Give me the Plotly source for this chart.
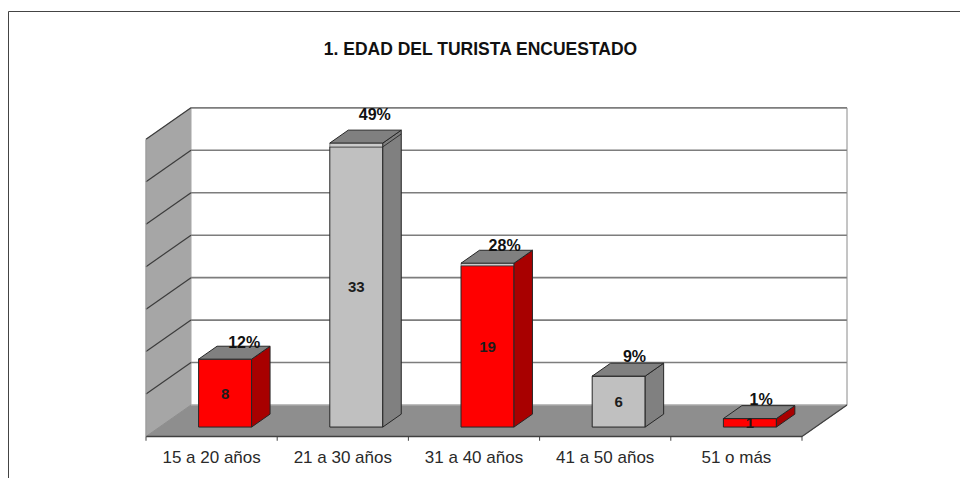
import plotly.graph_objects as go

categories = ["15 a 20 años", "21 a 30 años", "31 a 40 años", "41 a 50 años", "51 o más"]
counts = [8, 33, 19, 6, 1]
percents = [12, 49, 28, 9, 1]
caps = [0, 0.45, 0.3, 0, 0]
front_colors = ["#ff0000", "#c0c0c0", "#ff0000", "#c0c0c0", "#ff0000"]
side_colors = ["#a80000", "#808080", "#a80000", "#808080", "#a80000"]
title_text = "1. EDAD DEL TURISTA ENCUESTADO"

W, H = 960, 478
UX, UY = 131.2, 8.49          # px per category, px per unit
DX, DY = 45 / UX, 31.5 / UY   # floor depth in data units
F0, F1 = 0.30, 0.71           # bar front/back as fraction of the depth
BAR_W = 0.404
YMAX = 35
L, R, T, B = 140, 110, 100, 37
x_range = [-(146 - L) / UX, (W - R - 146) / UX]
y_range = [-(H - B - 436.5) / UY, (436.5 - T) / UY]
label_dx = [0.005, 0.0, -0.01, -0.02, -0.055]
label_dy = [0.25, 1.7, 0.4, 0.65, 0.55]
value_dy = -0.2

n = len(categories)
shapes = []


def poly(xs, ys, fill, line=None, width=1, layer="below"):
    d = "M" + "L".join(f"{x},{y}" for x, y in zip(xs, ys)) + "Z"
    shapes.append(dict(type="path", path=d, xref="x", yref="y", fillcolor=fill, layer=layer,
                       line=dict(color=line or fill, width=width)))


def seg(x0, y0, x1, y1, color, width):
    shapes.append(dict(type="line", x0=x0, y0=y0, x1=x1, y1=y1, xref="x", yref="y", layer="below",
                       line=dict(color=color, width=width)))


# walls and floor
poly([0, DX, DX, 0], [0, DY, DY + YMAX, YMAX], "#a6a6a6")
poly([0, n, n + DX, DX], [0, 0, DY, DY], "#8e8e8e")
for g in range(5, YMAX + 1, 5):
    seg(0, g, DX, DY + g, "#3c3c3c", 1.2)
    seg(DX, DY + g, n + DX, DY + g, "#7d7d7d", 1.6)
seg(DX, DY, n + DX, DY, "#b5b5b5", 1)
seg(n + DX, DY, n + DX, DY + YMAX, "#8a8a8a", 1)
seg(0, 0, n, 0, "#404040", 1.4)
seg(n, 0, n + DX, DY, "#404040", 1.2)
seg(0, 0, 0, YMAX, "#9a9a9a", 1)
for i in range(n + 1):
    seg(i, 0, i, -0.5, "#404040", 1)

fig = go.Figure()
centers = [i + 0.5 + DX * F0 for i in range(n)]
base0 = DY * F0
fig.add_trace(go.Bar(x=centers, y=counts, base=[base0] * n, width=BAR_W,
                     marker=dict(color=front_colors, line=dict(color="#262626", width=1)),
                     showlegend=False, hoverinfo="skip"))
fig.add_trace(go.Bar(x=centers, y=caps, base=[base0 + c for c in counts], width=BAR_W,
                     marker=dict(color="#cccccc", line=dict(color="#404040", width=0.6)),
                     showlegend=False, hoverinfo="skip"))

ddx, ddy = DX * (F1 - F0), DY * (F1 - F0)
for i in range(n):
    xl, xr = centers[i] - BAR_W / 2, centers[i] + BAR_W / 2
    top = base0 + counts[i] + caps[i]
    # side face
    fig.add_trace(go.Scatter(x=[xr, xr + ddx, xr + ddx, xr, xr], y=[base0, base0 + ddy, top + ddy, top, base0],
                             mode="lines", fill="toself", fillcolor=side_colors[i],
                             line=dict(color="#262626", width=1), showlegend=False, hoverinfo="skip"))
    # top face
    fig.add_trace(go.Scatter(x=[xl, xr, xr + ddx, xl + ddx, xl], y=[top, top, top + ddy, top + ddy, top],
                             mode="lines", fill="toself", fillcolor="#808080",
                             line=dict(color="#262626", width=1), showlegend=False, hoverinfo="skip"))
    if caps[i] > 0.4:
        v = base0 + counts[i]
        fig.add_trace(go.Scatter(x=[xr, xr + ddx], y=[v, v + ddy], mode="lines",
                                 line=dict(color="#303030", width=1), showlegend=False, hoverinfo="skip"))

# value labels
fig.add_trace(go.Scatter(x=centers, y=[base0 + c / 2 + value_dy for c in counts], text=[str(c) for c in counts],
                         mode="text", textfont=dict(family="Liberation Sans", size=15, color="#1c1c1c"),
                         texttemplate="<b>%{text}</b>", showlegend=False, hoverinfo="skip"))
# percent labels
fig.add_trace(go.Scatter(x=[centers[i] + ddx + label_dx[i] for i in range(n)],
                         y=[base0 + counts[i] + caps[i] + ddy + label_dy[i] for i in range(n)],
                         text=[f"{p}%" for p in percents], mode="text",
                         textfont=dict(family="Liberation Sans", size=16, color="#111111"),
                         texttemplate="<b>%{text}</b>", showlegend=False, hoverinfo="skip"))

# page frame
shapes.append(dict(type="line", xref="paper", yref="paper", x0=(8.5 - L) / (W - L - R), x1=(W - L) / (W - L - R),
                   y0=(H - B - 11.5) / (H - T - B), y1=(H - B - 11.5) / (H - T - B), line=dict(color="#444444", width=1)))
shapes.append(dict(type="line", xref="paper", yref="paper", x0=(8.5 - L) / (W - L - R), x1=(8.5 - L) / (W - L - R),
                   y0=-B / (H - T - B), y1=(H - B - 11.5) / (H - T - B), line=dict(color="#444444", width=1)))

fig.update_layout(
    width=W, height=H, autosize=False, margin=dict(l=L, r=R, t=T, b=B, pad=0),
    paper_bgcolor="white", plot_bgcolor="white", barmode="overlay", shapes=shapes,
    title=dict(text=f"<b>{title_text}</b>", x=480.5 / W, xanchor="center", y=1 - 49 / H, yanchor="middle",
               font=dict(family="Liberation Sans", size=17.5, color="#111111")),
    xaxis=dict(range=x_range, automargin=False, tickmode="array", tickvals=[i + 0.5 for i in range(n)], ticktext=categories,
               ticks="outside", ticklen=1, tickcolor="rgba(0,0,0,0)", showgrid=False, zeroline=False, showline=False,
               tickfont=dict(family="Liberation Sans", size=17, color="#2a2a2a")),
    yaxis=dict(range=y_range, automargin=False, showticklabels=False, ticks="", showgrid=False, zeroline=False, showline=False),
)
fig.write_html("out.html", config=dict(displayModeBar=False, responsive=False),
               post_script="document.body.style.margin='0';document.body.style.overflow='hidden';")
